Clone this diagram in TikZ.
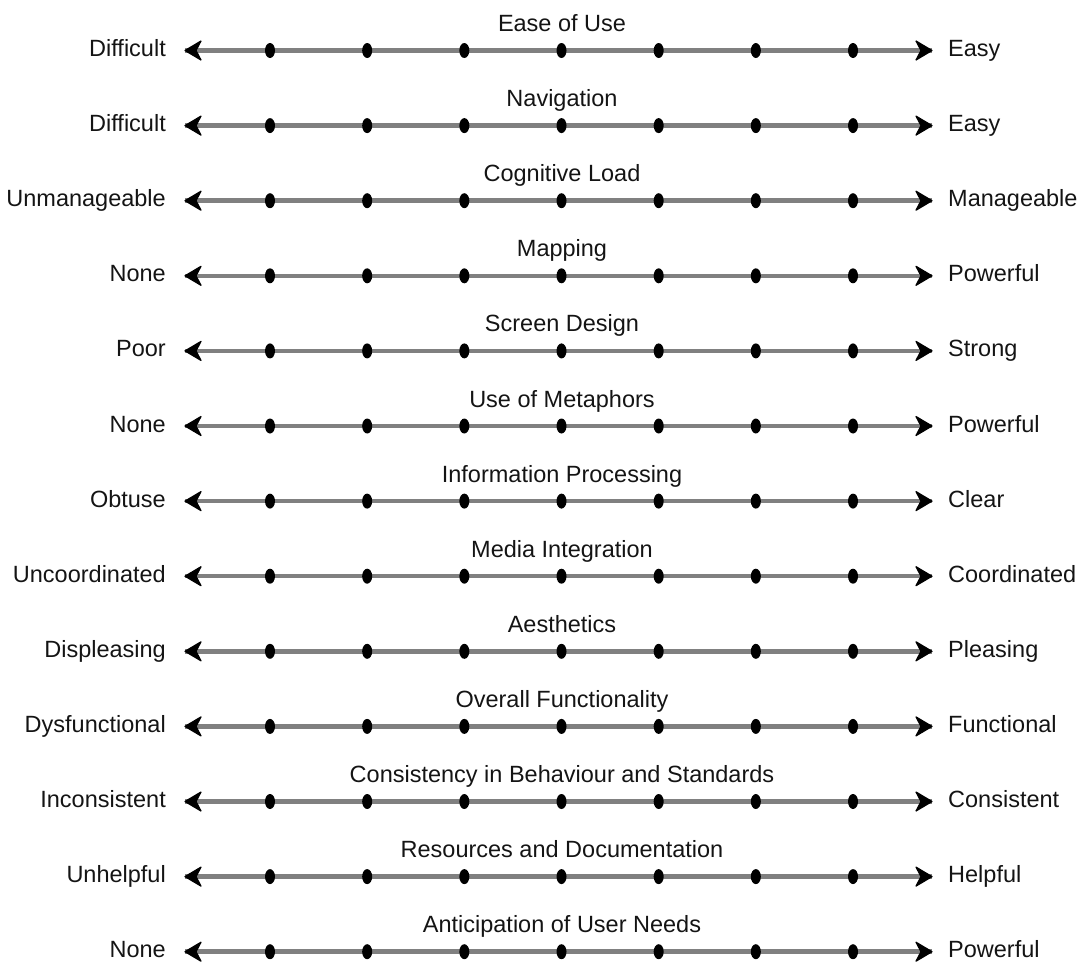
\documentclass[tikz,border=0pt]{standalone}
\usepackage{fontspec}
\setmainfont{Liberation Sans}
\usetikzlibrary{shapes.geometric}
\definecolor{axisgray}{RGB}{128,128,128}
\definecolor{inkblack}{RGB}{20,20,20}
\begin{document}
\begin{tikzpicture}[x=1pt,y=-1pt,
  lbl/.style={font=\fontsize{23.5}{26}\selectfont, text=inkblack, inner sep=0pt},
  scaleline/.style={draw=axisgray, line width=4.5pt},
  headfill/.style={fill=black, draw=black, line width=1.2pt, line join=round},
  tick/.style={ellipse, fill=black, inner sep=0pt, minimum width=10pt, minimum height=15pt}]
\useasboundingbox (0,0) rectangle (1082,962);
\foreach \title/\lft/\rgt [count=\i from 0] in {
  Ease of Use/Difficult/Easy,
  Navigation/Difficult/Easy,
  Cognitive Load/Unmanageable/Manageable,
  Mapping/None/Powerful,
  Screen Design/Poor/Strong,
  Use of Metaphors/None/Powerful,
  Information Processing/Obtuse/Clear,
  Media Integration/Uncoordinated/Coordinated,
  Aesthetics/Displeasing/Pleasing,
  Overall Functionality/Dysfunctional/Functional,
  Consistency in Behaviour and Standards/Inconsistent/Consistent,
  Resources and Documentation/Unhelpful/Helpful,
  Anticipation of User Needs/None/Powerful} {
  \pgfmathsetmacro\yy{50.5+75.1*\i}
  % scale title and end labels
  \node[lbl, anchor=base] (t\i) at (562,\yy-19) {\title};
  \node[lbl, anchor=base east] (a\i) at (166,\yy+6) {\lft};
  \node[lbl, anchor=base west] (b\i) at (948,\yy+6) {\rgt};
  % scale line between its two ends
  \coordinate (l\i) at (185,\yy);
  \coordinate (r\i) at (932,\yy);
  \draw[scaleline] (l\i) -- (r\i);
  % dart-shaped heads at both ends
  \filldraw[headfill] (l\i) -- ++(16,-9.5) -- ++(-5,9.5) -- ++(5,9.5) -- cycle;
  \filldraw[headfill] (r\i) -- ++(-16,-9.5) -- ++(5,9.5) -- ++(-5,9.5) -- cycle;
  % seven tick marks along the scale
  \foreach \k in {0,...,6} {
    \node[tick] (d\i-\k) at ({270+97.17*\k},\yy) {};
  }
}
\end{tikzpicture}
\end{document}
